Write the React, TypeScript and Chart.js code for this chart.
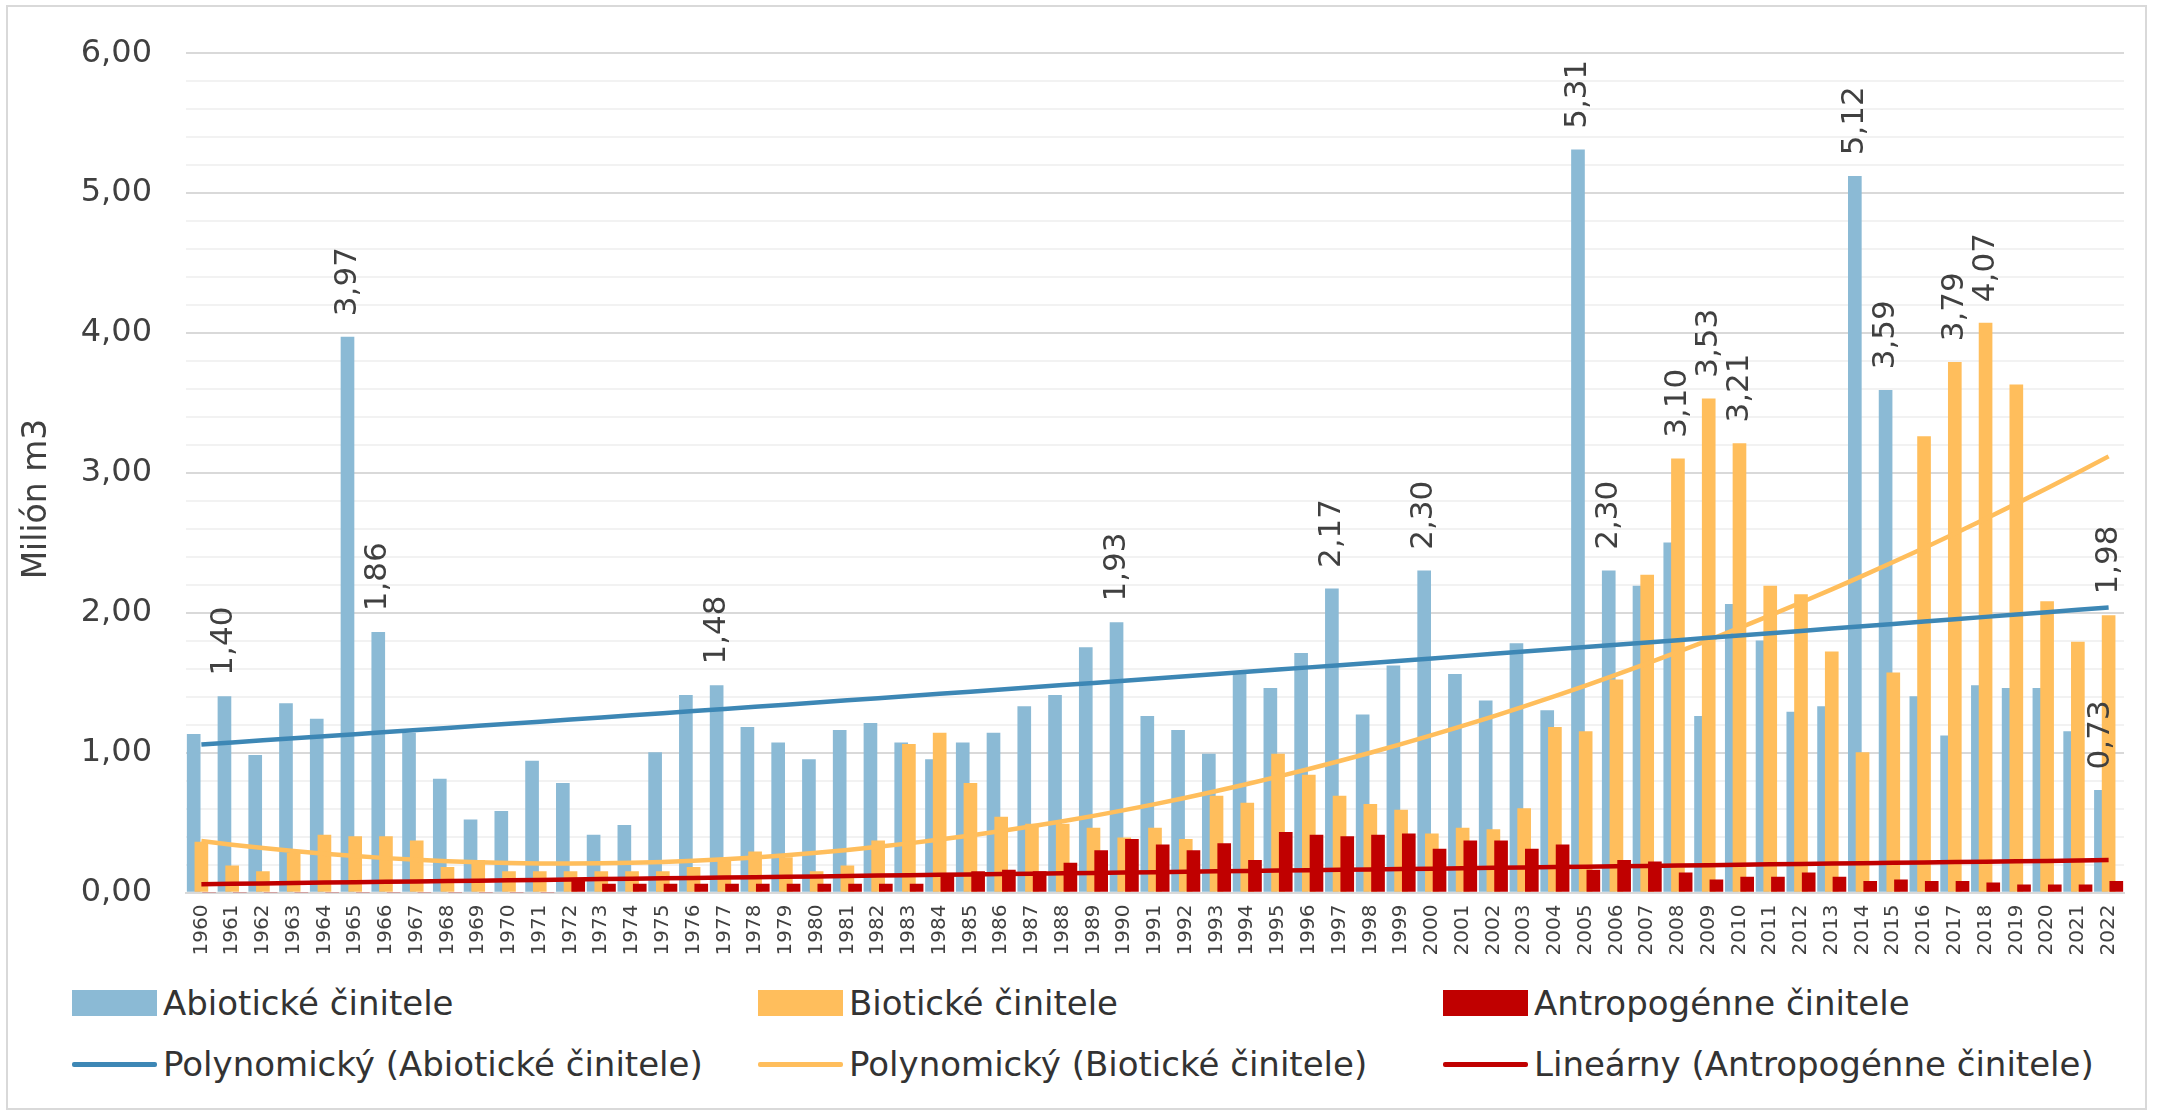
import React, { useEffect, useRef } from "react";
import { Chart, registerables } from "chart.js";

Chart.register(...registerables);

// ---------- data ----------
const years = [
  "1960","1961","1962","1963","1964","1965","1966","1967","1968","1969",
  "1970","1971","1972","1973","1974","1975","1976","1977","1978","1979",
  "1980","1981","1982","1983","1984","1985","1986","1987","1988","1989",
  "1990","1991","1992","1993","1994","1995","1996","1997","1998","1999",
  "2000","2001","2002","2003","2004","2005","2006","2007","2008","2009",
  "2010","2011","2012","2013","2014","2015","2016","2017","2018","2019",
  "2020","2021","2022",
];

const abiotic = [
  1.13, 1.40, 0.98, 1.35, 1.24, 3.97, 1.86, 1.14, 0.81, 0.52,
  0.58, 0.94, 0.78, 0.41, 0.48, 1.00, 1.41, 1.48, 1.18, 1.07,
  0.95, 1.16, 1.21, 1.07, 0.95, 1.07, 1.14, 1.33, 1.41, 1.75,
  1.93, 1.26, 1.16, 0.99, 1.58, 1.46, 1.71, 2.17, 1.27, 1.62,
  2.30, 1.56, 1.37, 1.78, 1.30, 5.31, 2.30, 2.19, 2.50, 1.26,
  2.06, 1.80, 1.29, 1.33, 5.12, 3.59, 1.40, 1.12, 1.48, 1.46,
  1.46, 1.15, 0.73,
];

const biotic = [
  0.36, 0.19, 0.15, 0.28, 0.41, 0.40, 0.40, 0.37, 0.18, 0.23,
  0.15, 0.15, 0.15, 0.15, 0.15, 0.15, 0.18, 0.24, 0.29, 0.25,
  0.15, 0.19, 0.37, 1.06, 1.14, 0.78, 0.54, 0.49, 0.49, 0.46,
  0.39, 0.46, 0.38, 0.69, 0.64, 0.99, 0.84, 0.69, 0.63, 0.59,
  0.42, 0.46, 0.45, 0.60, 1.18, 1.15, 1.52, 2.27, 3.10, 3.53,
  3.21, 2.19, 2.13, 1.72, 1.00, 1.57, 3.26, 3.79, 4.07, 3.63,
  2.08, 1.79, 1.98,
];

const anthropogenic = [
  0.00, 0.00, 0.00, 0.00, 0.00, 0.00, 0.00, 0.00, 0.00, 0.00,
  0.00, 0.00, 0.09, 0.06, 0.06, 0.06, 0.06, 0.06, 0.06, 0.06,
  0.06, 0.06, 0.06, 0.06, 0.13, 0.15, 0.16, 0.15, 0.21, 0.30,
  0.38, 0.34, 0.30, 0.35, 0.23, 0.43, 0.41, 0.40, 0.41, 0.42,
  0.31, 0.37, 0.37, 0.31, 0.34, 0.16, 0.23, 0.22, 0.14, 0.09,
  0.11, 0.11, 0.14, 0.11, 0.08, 0.09, 0.08, 0.08, 0.07, 0.055,
  0.055, 0.055, 0.08,
];

const abioticLabelYears = ["1961", "1965", "1966", "1977", "1990", "1997", "2000", "2005", "2006", "2014", "2015", "2022"];
const bioticLabelYears = ["2008", "2009", "2010", "2017", "2018", "2022"];

const seriesNames = ["Abiotické činitele", "Biotické činitele", "Antropogénne činitele"];
const trendNames = [
  "Polynomický (Abiotické činitele)",
  "Polynomický (Biotické činitele)",
  "Lineárny (Antropogénne činitele)",
];
const yTickValues = [0, 1, 2, 3, 4, 5, 6];
const yTitle = "Milión m3";

// ---------- styling ----------
const BAR_COLORS = ["#8BBAD5", "#FFBE5C", "#C00000"];
const TREND_COLORS = ["#3D87B5", "#FFBE5C", "#C00000"];
const TEXT = "#404040";
const FONT = '"DejaVu Sans", sans-serif';

// least-squares polynomial fit (as the spreadsheet trendline does)
function polyFit(xs: number[], ys: number[], deg: number): number[] {
  const n = deg + 1;
  const A: number[][] = Array.from({ length: n }, () => new Array(n + 1).fill(0));
  for (let k = 0; k < xs.length; k++) {
    for (let r = 0; r < n; r++) {
      for (let c = 0; c < n; c++) A[r][c] += Math.pow(xs[k], r + c);
      A[r][n] += ys[k] * Math.pow(xs[k], r);
    }
  }
  for (let i = 0; i < n; i++) {
    let p = i;
    for (let r = i + 1; r < n; r++) if (Math.abs(A[r][i]) > Math.abs(A[p][i])) p = r;
    const tmp = A[i]; A[i] = A[p]; A[p] = tmp;
    for (let r = 0; r < n; r++) {
      if (r === i) continue;
      const f = A[r][i] / A[i][i];
      for (let c = i; c <= n; c++) A[r][c] -= f * A[i][c];
    }
  }
  return A.map((row, i) => row[n] / row[i]);
}

function trend(values: number[], deg: number) {
  const xs = values.map((_, i) => i + 1);
  const coef = polyFit(xs, values, deg);
  return xs.map((x, i) => ({ x: i, y: coef.reduce((s, c, j) => s + c * Math.pow(x, j), 0) }));
}

const fmt = (v: number) => v.toFixed(2).replace(".", ",");

const valueLabelPlugin = {
  id: "valueLabels",
  afterDatasetsDraw(chart: any) {
    const ctx = chart.ctx;
    chart.data.datasets.forEach((ds: any, di: number) => {
      const labelYears: string[] | undefined = ds.labelYears;
      if (!labelYears) return;
      const meta = chart.getDatasetMeta(di);
      meta.data.forEach((el: any, i: number) => {
        if (!labelYears.includes(years[i])) return;
        const v = ds.data[i].y;
        ctx.save();
        ctx.translate(el.x, el.y - 21);
        ctx.rotate(-Math.PI / 2);
        ctx.font = `31px ${FONT}`;
        ctx.fillStyle = TEXT;
        ctx.textAlign = "left";
        ctx.textBaseline = "middle";
        ctx.fillText(fmt(v), 0, 0);
        ctx.restore();
      });
    });
  },
};

const axisTitlePlugin = {
  id: "axisTitle",
  afterDraw(chart: any) {
    const ctx = chart.ctx;
    ctx.save();
    ctx.translate(37, 499);
    ctx.rotate(-Math.PI / 2);
    ctx.font = `33px ${FONT}`;
    ctx.fillStyle = TEXT;
    ctx.textAlign = "center";
    ctx.textBaseline = "middle";
    ctx.fillText(yTitle, 0, 0);
    ctx.restore();
  },
};

const CANVAS_W = 2165;
const CANVAS_H = 975;
const PLOT_LEFT = 186;
const PLOT_RIGHT = 2124;
const PLOT_TOP = 52;
const PLOT_BOTTOM = 892.5;

export default function App() {
  const ref = useRef<HTMLCanvasElement | null>(null);

  useEffect(() => {
    if (!ref.current) return;
    const barSeries = [abiotic, biotic, anthropogenic];
    const offsets = [-0.25, 0, 0.25];
    const barDatasets = barSeries.map((vals, s) => ({
      type: "bar" as const,
      label: seriesNames[s],
      data: vals.map((v, i) => ({ x: i + offsets[s], y: v })),
      backgroundColor: BAR_COLORS[s],
      borderWidth: 0,
      barThickness: 13,
      grouped: false,
      order: 3 - s,
      labelYears: s === 0 ? abioticLabelYears : s === 1 ? bioticLabelYears : undefined,
    }));
    const trendData = [trend(abiotic, 2), trend(biotic, 2), trend(anthropogenic, 1)];
    const lineDatasets = trendData.map((d, s) => ({
      type: "line" as const,
      label: trendNames[s],
      data: d,
      borderColor: TREND_COLORS[s],
      backgroundColor: TREND_COLORS[s],
      borderWidth: 4.5,
      pointRadius: 0,
      fill: false,
      tension: 0,
      order: 0,
    }));

    const chart = new Chart(ref.current, {
      type: "bar",
      data: { datasets: [...barDatasets, ...lineDatasets] as any },
      options: {
        animation: false,
        responsive: false,
        devicePixelRatio: 1,
        layout: { padding: { left: 0, right: CANVAS_W - PLOT_RIGHT, top: PLOT_TOP, bottom: 0 } },
        plugins: { legend: { display: false }, tooltip: { enabled: false }, title: { display: false } },
        scales: {
          x: {
            type: "linear",
            min: -0.5,
            max: years.length - 0.5,
            offset: false,
            grid: { display: false, drawTicks: false },
            border: { display: true, color: "#D9D9D9", width: 2 },
            afterBuildTicks: (s: any) => {
              s.ticks = years.map((_, i) => ({ value: i }));
            },
            ticks: {
              autoSkip: false,
              minRotation: 90,
              maxRotation: 90,
              padding: 12,
              color: TEXT,
              font: { family: FONT, size: 20 },
              callback: (v: any) => {
                const i = Math.round(Number(v));
                return years[i] !== undefined ? years[i] : "";
              },
            },
            afterFit: (s: any) => {
              s.height = CANVAS_H - PLOT_BOTTOM;
            },
          },
          y: {
            min: 0,
            max: 6,
            grid: {
              drawTicks: false,
              lineWidth: 2,
              color: (c: any) => {
                const v = c.tick ? c.tick.value : 0;
                return yTickValues.some((t) => Math.abs(t - v) < 1e-6) ? "#D9D9D9" : "#F2F2F2";
              },
            },
            border: { display: false },
            ticks: {
              stepSize: 0.2,
              autoSkip: false,
              padding: 34,
              color: TEXT,
              font: { family: FONT, size: 32 },
              callback: (v: any) => {
                const t = yTickValues.find((tv) => Math.abs(tv - v) < 1e-6);
                return t === undefined ? "" : fmt(t);
              },
            },
            afterFit: (s: any) => {
              s.width = PLOT_LEFT;
            },
          },
        },
      } as any,
      plugins: [valueLabelPlugin, axisTitlePlugin],
    });
    return () => chart.destroy();
  }, []);

  const colSwatch = [72, 758, 1443];
  const rowCenter = [1002.5, 1064];
  const legendItems: any[] = [];
  for (let c = 0; c < 3; c++) {
    legendItems.push({ row: 0, col: c, name: seriesNames[c], color: BAR_COLORS[c], kind: "bar" });
    legendItems.push({ row: 1, col: c, name: trendNames[c], color: TREND_COLORS[c], kind: "line" });
  }

  return (
    <div
      style={{
        position: "absolute",
        left: 0,
        top: 0,
        width: 2165,
        height: 1112,
        background: "#ffffff",
        overflow: "hidden",
        fontFamily: FONT,
      }}
    >
      <div
        style={{
          position: "absolute",
          left: 6,
          top: 5,
          width: 2141,
          height: 1105,
          border: "2px solid #D9D9D9",
          boxSizing: "border-box",
        }}
      />
      <canvas
        ref={ref}
        width={CANVAS_W}
        height={CANVAS_H}
        style={{ position: "absolute", left: 0, top: 0, width: CANVAS_W, height: CANVAS_H }}
      />
      {legendItems.map((it) => (
        <div
          key={it.name}
          style={{
            position: "absolute",
            left: colSwatch[it.col],
            top: rowCenter[it.row] - 25,
            height: 50,
            display: "flex",
            alignItems: "center",
            whiteSpace: "nowrap",
          }}
        >
          <div
            style={{
              width: 85,
              height: it.kind === "bar" ? 26 : 5,
              background: it.color,
              borderRadius: it.kind === "bar" ? 0 : 2,
            }}
          />
          <span style={{ marginLeft: 6, fontSize: 34, color: "#333333", lineHeight: "50px" }}>{it.name}</span>
        </div>
      ))}
    </div>
  );
}
